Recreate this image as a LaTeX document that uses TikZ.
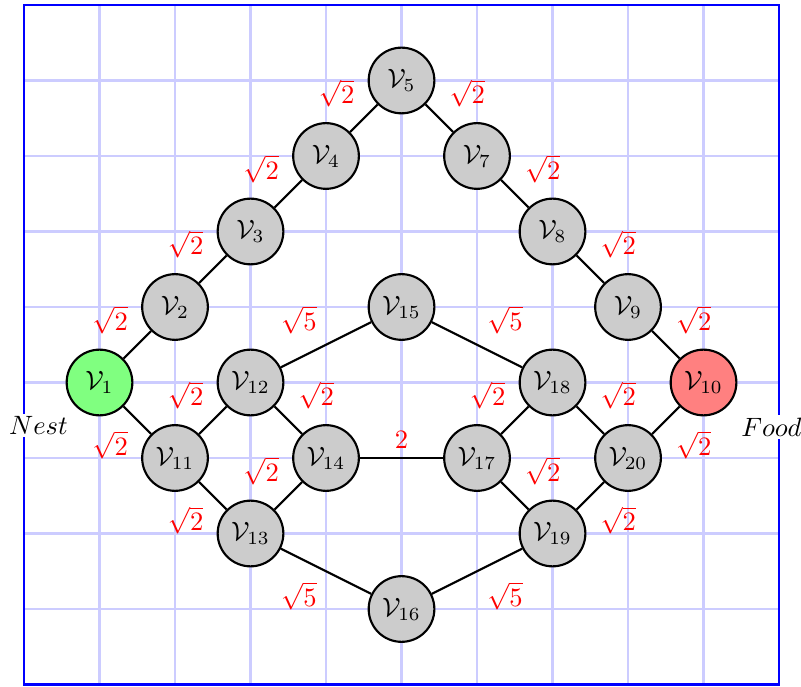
\documentclass[tikz,border=0pt]{standalone}
\usepackage{tikz}
\usepackage{xcolor}

\begin{document}
\begin{tikzpicture}[
v/.style={circle, draw, thick, fill=gray!40, minimum size=0.87cm, inner sep=0pt},
lbl/.style={red, midway},
nwl/.style={lbl, xshift=-0.36cm, yshift=0.33cm},
nel/.style={lbl, xshift=0.37cm, yshift=0.33cm},
swl/.style={lbl, xshift=-0.36cm, yshift=-0.33cm},
sel/.style={lbl, xshift=0.37cm, yshift=-0.33cm}]

\useasboundingbox (-0.318,-0.020) rectangle (10.291,9.066);
\draw[blue!20, line width=0.8pt] (0,0) grid (10,9);
\draw[blue, thick] (0,0) rectangle (10,9);

\node[v, fill=green!50] (v1) at (1,4) {$\mathcal{V}_{1}$};
\node[v] (v2) at (2,5) {$\mathcal{V}_{2}$};
\node[v] (v3) at (3,6) {$\mathcal{V}_{3}$};
\node[v] (v4) at (4,7) {$\mathcal{V}_{4}$};
\node[v] (v5) at (5,8) {$\mathcal{V}_{5}$};
\node[v] (v7) at (6,7) {$\mathcal{V}_{7}$};
\node[v] (v8) at (7,6) {$\mathcal{V}_{8}$};
\node[v] (v9) at (8,5) {$\mathcal{V}_{9}$};
\node[v, fill=red!50] (v10) at (9,4) {$\mathcal{V}_{10}$};
\node[v] (v11) at (2,3) {$\mathcal{V}_{11}$};
\node[v] (v12) at (3,4) {$\mathcal{V}_{12}$};
\node[v] (v13) at (3,2) {$\mathcal{V}_{13}$};
\node[v] (v14) at (4,3) {$\mathcal{V}_{14}$};
\node[v] (v15) at (5,5) {$\mathcal{V}_{15}$};
\node[v] (v16) at (5,1) {$\mathcal{V}_{16}$};
\node[v] (v17) at (6,3) {$\mathcal{V}_{17}$};
\node[v] (v18) at (7,4) {$\mathcal{V}_{18}$};
\node[v] (v19) at (7,2) {$\mathcal{V}_{19}$};
\node[v] (v20) at (8,3) {$\mathcal{V}_{20}$};

\node[fill=white, inner sep=1pt] (nest) at (0.19,3.43) {$Nest$};
\node[fill=white, inner sep=1pt] (food) at (9.9,3.41) {$Food$};

% outer path
\draw[thick] (v1) -- (v2) node[nwl] {$\sqrt{2}$};
\draw[thick] (v2) -- (v3) node[nwl] {$\sqrt{2}$};
\draw[thick] (v3) -- (v4) node[nwl] {$\sqrt{2}$};
\draw[thick] (v4) -- (v5) node[nwl] {$\sqrt{2}$};
\draw[thick] (v5) -- (v7) node[nel] {$\sqrt{2}$};
\draw[thick] (v7) -- (v8) node[nel] {$\sqrt{2}$};
\draw[thick] (v8) -- (v9) node[nel] {$\sqrt{2}$};
\draw[thick] (v9) -- (v10) node[nel] {$\sqrt{2}$};

% inner paths
\draw[thick] (v1) -- (v11) node[swl] {$\sqrt{2}$};
\draw[thick] (v11) -- (v12) node[nwl] {$\sqrt{2}$};
\draw[thick] (v11) -- (v13) node[swl] {$\sqrt{2}$};
\draw[thick] (v12) -- (v14) node[nel] {$\sqrt{2}$};
\draw[thick] (v13) -- (v14) node[nwl] {$\sqrt{2}$};
\draw[thick] (v12) -- (v15) node[nwl] {$\sqrt{5}$};
\draw[thick] (v15) -- (v18) node[nel] {$\sqrt{5}$};
\draw[thick] (v13) -- (v16) node[swl] {$\sqrt{5}$};
\draw[thick] (v16) -- (v19) node[sel] {$\sqrt{5}$};
\draw[thick] (v14) -- (v17) node[lbl, yshift=0.24cm] {$2$};
\draw[thick] (v17) -- (v18) node[nwl] {$\sqrt{2}$};
\draw[thick] (v17) -- (v19) node[nel] {$\sqrt{2}$};
\draw[thick] (v18) -- (v20) node[nel] {$\sqrt{2}$};
\draw[thick] (v19) -- (v20) node[sel] {$\sqrt{2}$};
\draw[thick] (v20) -- (v10) node[sel] {$\sqrt{2}$};

\end{tikzpicture}
\end{document}
